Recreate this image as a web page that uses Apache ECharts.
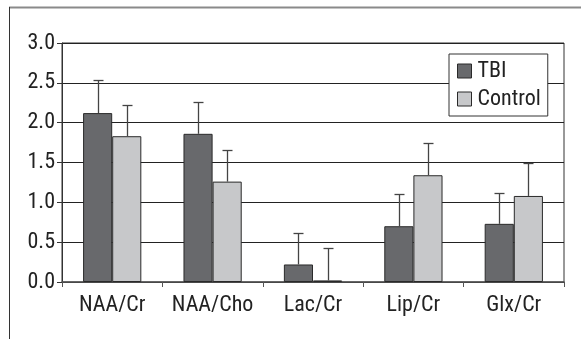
<!DOCTYPE html>
<html><head><meta charset="utf-8">
<script src="https://cdn.jsdelivr.net/npm/echarts@6/dist/echarts.min.js"></script>
<style>html,body{margin:0;padding:0;background:#fff}#c{width:582px;height:339px}</style>
</head><body><div id="c"></div>
<script>
var categories = ['NAA/Cr', 'NAA/Cho', 'Lac/Cr', 'Lip/Cr', 'Glx/Cr'];
var tbiMean = [2.12, 1.86, 0.22, 0.70, 0.73];
var tbiUpper = [2.53, 2.26, 0.62, 1.11, 1.12];
var controlMean = [1.83, 1.26, 0.02, 1.34, 1.08];
var controlUpper = [2.22, 1.66, 0.43, 1.74, 1.49];
var seriesNames = ['TBI', 'Control'];
var yTicks = [0, 0.5, 1.0, 1.5, 2.0, 2.5, 3.0];

var FONT = '"Roboto Condensed", "DejaVu Sans Condensed", sans-serif';
var FS = 22;
var CAT_GAP = 0.42;
var colors = ['#68696c', '#c7c8ca'];

function errItem(seriesIdx, uppers, means) {
  return {
    type: 'custom',
    silent: true,
    z: 5,
    data: categories.map(function (c, i) { return [i, means[i], uppers[i]]; }),
    renderItem: function (params, api) {
      var i = api.value(0);
      var base = api.coord([i, api.value(1)]);
      var top = api.coord([i, api.value(2)]);
      var band = api.size([1, 0])[0];
      var bw = band * (1 - CAT_GAP) / 2;
      var x = base[0] + (seriesIdx === 0 ? -bw / 2 : bw / 2);
      x = Math.round(x) + 0.5;
      var ty = Math.round(top[1]) + 0.5;
      var cap = 5;
      var style = { stroke: '#444', lineWidth: 1.3 };
      return {
        type: 'group',
        children: [
          { type: 'line', shape: { x1: x, y1: base[1], x2: x, y2: ty }, style: style },
          { type: 'line', shape: { x1: x - cap, y1: ty, x2: x + cap, y2: ty }, style: style }
        ]
      };
    }
  };
}

var chart = echarts.init(document.getElementById('c'), null, { renderer: 'canvas' });
chart.setOption({
  animation: false,
  backgroundColor: '#fff',
  textStyle: { fontFamily: FONT },
  grid: { left: 62, right: 18, top: 43, bottom: 57, show: true, borderColor: '#333', borderWidth: 1, backgroundColor: 'transparent' },
  legend: {
    data: seriesNames,
    orient: 'vertical',
    left: 449, top: 54,
    padding: [6, 7, 6, 8],
    itemGap: 6,
    itemWidth: 14, itemHeight: 14,
    icon: 'rect',
    backgroundColor: '#fff',
    borderColor: '#333', borderWidth: 1,
    itemStyle: { borderColor: '#2a2a2a', borderWidth: 1 },
    textStyle: { fontFamily: FONT, fontSize: FS, color: '#222', padding: [0, 0, 0, 1] }
  },
  xAxis: {
    type: 'category',
    data: categories,
    axisLine: { lineStyle: { color: '#555', width: 1.5 } },
    axisTick: { show: true, length: 5, lineStyle: { color: '#555' } },
    axisLabel: { interval: 0, fontFamily: FONT, fontSize: FS, color: '#222', margin: 12 }
  },
  yAxis: {
    type: 'value',
    min: 0, max: 3, interval: 0.5,
    axisLine: { show: true, lineStyle: { color: '#333' } },
    axisTick: { show: true, length: 5, lineStyle: { color: '#333' } },
    splitLine: { lineStyle: { color: '#222', width: 1 } },
    axisLabel: {
      fontFamily: FONT, fontSize: FS, color: '#222', margin: 7,
      formatter: function (v) { return v.toFixed(1); }
    }
  },
  series: [
    { name: seriesNames[0], type: 'bar', data: tbiMean, barGap: '0%', barCategoryGap: (CAT_GAP * 100) + '%',
      itemStyle: { color: colors[0], borderColor: '#2a2a2a', borderWidth: 1 }, z: 3 },
    { name: seriesNames[1], type: 'bar', data: controlMean, barGap: '0%', barCategoryGap: (CAT_GAP * 100) + '%',
      itemStyle: { color: colors[1], borderColor: '#2a2a2a', borderWidth: 1 }, z: 3 },
    errItem(0, tbiUpper, tbiMean),
    errItem(1, controlUpper, controlMean)
  ],
  graphic: [
    { type: 'line', shape: { x1: 9, y1: 7.5, x2: 581, y2: 7.5 }, style: { stroke: '#8a8a8a', lineWidth: 2 }, silent: true },
    { type: 'line', shape: { x1: 9.5, y1: 7, x2: 9.5, y2: 339 }, style: { stroke: '#333', lineWidth: 1 }, silent: true }
  ]
});
</script></body></html>
